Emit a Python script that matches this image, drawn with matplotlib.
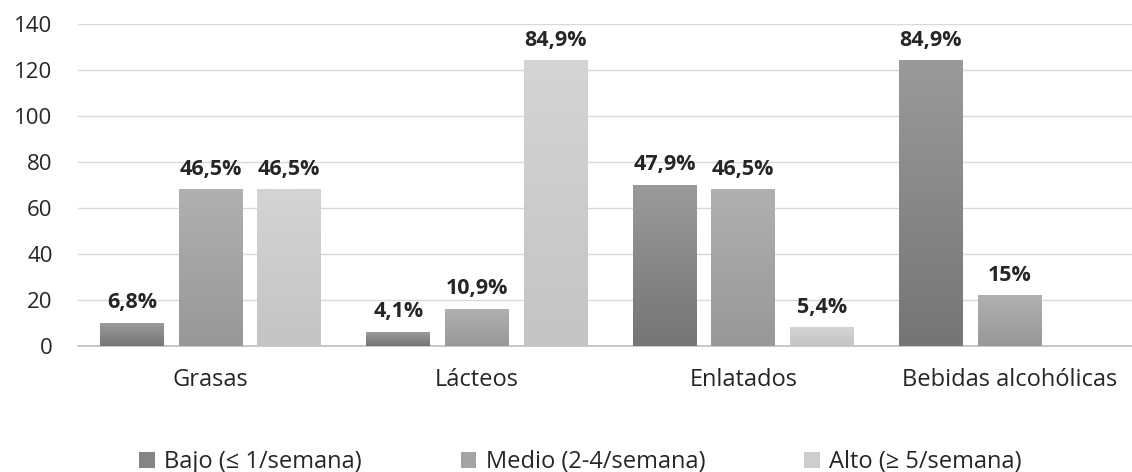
import matplotlib
matplotlib.use('Agg')
import matplotlib.pyplot as plt
from matplotlib.patches import Patch
from matplotlib.colors import to_rgb
import numpy as np

categories = ['Grasas', 'Lácteos', 'Enlatados', 'Bebidas alcohólicas']
series_names = ['Bajo (≤ 1/semana)', 'Medio (2-4/semana)', 'Alto (≥ 5/semana)']
bajo = [10, 6, 70, 124]
medio = [68, 16, 68, 22]
alto = [68, 124, 8, 0]
bajo_pct = ['6,8%', '4,1%', '47,9%', '84,9%']
medio_pct = ['46,5%', '10,9%', '46,5%', '15%']
alto_pct = ['46,5%', '84,9%', '5,4%', '']
y_ticks = [0, 20, 40, 60, 80, 100, 120, 140]

# bottom / top colours of the gradient per series
grad_colors = [('#757575', '#9a9a9a'), ('#989898', '#b0b0b0'), ('#c4c4c4', '#d4d4d4')]
legend_colors = ['#858585', '#a4a4a4', '#cdcdcd']

plt.rcParams['font.family'] = ['Open Sans', 'DejaVu Sans']

fig = plt.figure(figsize=(11.32, 4.72), dpi=100)
ax = fig.add_axes([77.5 / 1132, 126 / 472, 1 - 77.5 / 1132, 322 / 472])

x = np.arange(len(categories))
width = 0.24
step = 0.295
values = [bajo, medio, alto]
pcts = [bajo_pct, medio_pct, alto_pct]

for i, (vals, labels) in enumerate(zip(values, pcts)):
    bars = ax.bar(x + (i - 1) * step, vals, width, color='none', zorder=3)
    c0, c1 = to_rgb(grad_colors[i][0]), to_rgb(grad_colors[i][1])
    grad = np.linspace(0, 1, 64)[:, None, None]
    img = (1 - grad) * np.array(c0) + grad * np.array(c1)
    for bar, lab in zip(bars, labels):
        h = bar.get_height()
        if h <= 0:
            continue
        x0 = bar.get_x()
        ax.imshow(img, extent=(x0, x0 + bar.get_width(), 0, h), origin='lower',
                  aspect='auto', zorder=3, interpolation='bilinear')
        ax.annotate(lab, (x0 + bar.get_width() / 2, h), xytext=(0, 7),
                    textcoords='offset points', ha='center', va='bottom',
                    fontsize=15.5, fontweight='bold', color='#262626')

ax.set_xlim(-0.5, -0.5 + (1132 - 77.5) / 266.3)
ax.set_ylim(0, 140)
ax.set_yticks(y_ticks)
ax.set_xticks(x)
ax.set_xticklabels(categories, fontsize=17)
ax.tick_params(axis='both', length=0, labelcolor='#262626')
ax.tick_params(axis='y', pad=18, labelsize=16)
ax.tick_params(axis='x', pad=16)
ax.grid(axis='y', color='#d9d9d9', linewidth=1, zorder=0)
for side in ['top', 'right', 'left']:
    ax.spines[side].set_visible(False)
ax.spines['bottom'].set_color('#bfbfbf')
ax.spines['bottom'].set_linewidth(1.2)

handles = [Patch(facecolor=c, edgecolor='none') for c in legend_colors]
fig.legend(handles, series_names, loc='center left', bbox_to_anchor=(118 / 1132, 10 / 472),
           ncol=3, frameon=False, fontsize=17, handlelength=0.65, handleheight=0.65,
           handletextpad=0.4, columnspacing=4.2, labelcolor='#262626')

fig.savefig('out.png', dpi=100)
